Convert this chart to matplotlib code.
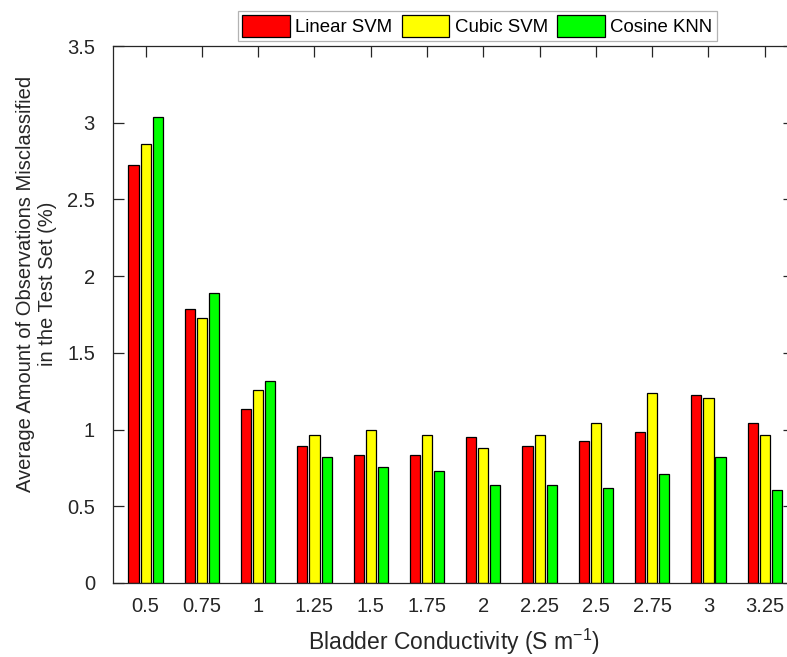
import numpy as np
import matplotlib
matplotlib.use('Agg')
import matplotlib.pyplot as plt

plt.rcParams['font.family'] = ['Liberation Sans', 'DejaVu Sans']
plt.rcParams['mathtext.default'] = 'regular'

conductivity = ['0.5', '0.75', '1', '1.25', '1.5', '1.75', '2', '2.25', '2.5', '2.75', '3', '3.25']
linear_svm = [2.726, 1.787, 1.134, 0.893, 0.834, 0.834, 0.952, 0.893, 0.923, 0.983, 1.225, 1.045]
cubic_svm = [2.859, 1.726, 1.256, 0.967, 0.998, 0.967, 0.877, 0.967, 1.045, 1.238, 1.209, 0.967]
cosine_knn = [3.038, 1.892, 1.317, 0.818, 0.759, 0.728, 0.638, 0.638, 0.622, 0.712, 0.818, 0.609]

txt = '#262626'
fig = plt.figure(figsize=(7.87, 6.57), dpi=100)
ax = fig.add_axes([113/787, 74/657, (794-113)/787, (583-46)/657])

x = np.arange(1, len(conductivity) + 1)
w = 0.18
off = 0.215
b1 = ax.bar(x - off, linear_svm, w, color='#ff0000', edgecolor='black', linewidth=0.9,
            label='Linear SVM', zorder=3)
b2 = ax.bar(x, cubic_svm, w, color='#ffff00', edgecolor='black', linewidth=0.9,
            label='Cubic SVM', zorder=3)
b3 = ax.bar(x + off, cosine_knn, w, color='#00ff00', edgecolor='black', linewidth=0.9,
            label='Cosine KNN', zorder=3)

ax.set_xlim(0.42, 12.52)
ax.set_ylim(0, 3.5)
ax.set_xticks(x)
ax.set_xticklabels(conductivity)
ax.set_yticks(np.arange(0, 3.51, 0.5))
ax.set_yticklabels(['0', '0.5', '1', '1.5', '2', '2.5', '3', '3.5'])
ax.tick_params(direction='in', top=True, right=True, length=8, width=0.9,
               labelsize=14.5, colors=txt)
ax.tick_params(axis='x', pad=10)
ax.tick_params(axis='y', pad=13)
for s in ax.spines.values():
    s.set_color(txt)
    s.set_linewidth(0.9)
    s.set_zorder(4)

ax.set_xlabel('Bladder Conductivity (S m$^{-1}$)', fontsize=16.5, color=txt, labelpad=8)
ax.set_ylabel('Average Amount of Observations Misclassified\nin the Test Set (%)',
              fontsize=14.5, color=txt)
ax.yaxis.set_label_coords(-0.082, 0.557)

leg = fig.legend(handles=[b1, b2, b3], loc='center', ncol=3,
                 bbox_to_anchor=(477.5/787, 1 - 26/657), fontsize=13.4,
                 frameon=True, fancybox=False, edgecolor='#a0a0a0',
                 handlelength=2.55, handleheight=1.4, handletextpad=0.3,
                 columnspacing=0.5, borderpad=0.25, borderaxespad=0)
leg.get_frame().set_linewidth(0.9)
for t in leg.get_texts():
    t.set_color('black')

fig.savefig('out.png', dpi=100)
